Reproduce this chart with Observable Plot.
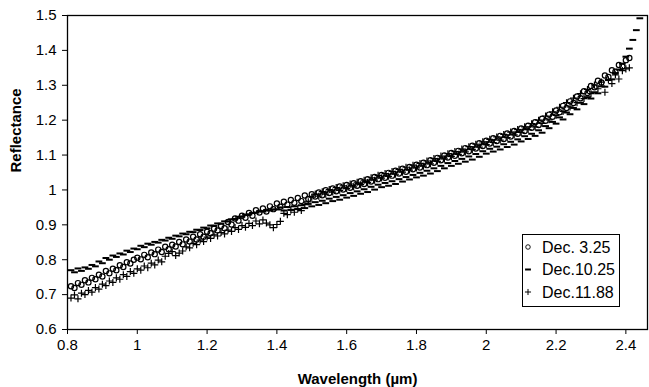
<!DOCTYPE html>
<html>
<head>
<meta charset="utf-8">
<script src="https://cdn.jsdelivr.net/npm/d3@7"></script>
<script src="https://cdn.jsdelivr.net/npm/@observablehq/plot@0.6"></script>
<style>
  html, body { margin: 0; padding: 0; background: #fff; }
  #chart { width: 649px; height: 387px; }
</style>
</head>
<body>
<div id="chart"></div>
<script>
// Spectra sampled every 0.01 µm starting at 0.81 µm
const wlStart = 0.81;
const wlStep = 0.01;

const seriesNames = ["Dec. 3.25", "Dec.10.25", "Dec.11.88"];

// Dec. 3.25 (circles), 0.81 – 2.41 µm
const dec325 = [
0.724,0.719,0.733,0.728,0.741,0.735,0.748,0.744,0.757,0.752,
0.768,0.761,0.774,0.770,0.784,0.779,0.793,0.789,0.800,0.806,
0.801,0.814,0.807,0.821,0.816,0.829,0.822,0.837,0.830,0.843,
0.838,0.851,0.844,0.858,0.852,0.866,0.858,0.873,0.866,0.880,
0.876,0.889,0.884,0.897,0.890,0.908,0.901,0.918,0.912,0.926,
0.920,0.934,0.926,0.942,0.935,0.947,0.938,0.953,0.945,0.961,
0.952,0.966,0.958,0.971,0.963,0.977,0.968,0.984,0.974,0.988,
0.981,0.993,0.985,0.999,0.991,1.004,0.996,1.010,1.001,1.014,
1.006,1.019,1.012,1.025,1.017,1.031,1.024,1.037,1.031,1.043,
1.035,1.049,1.041,1.055,1.047,1.061,1.052,1.066,1.059,1.072,
1.064,1.078,1.071,1.085,1.078,1.092,1.085,1.099,1.093,1.106,
1.098,1.112,1.105,1.120,1.111,1.127,1.119,1.134,1.126,1.141,
1.133,1.148,1.140,1.155,1.146,1.162,1.153,1.169,1.161,1.176,
1.169,1.184,1.178,1.194,1.186,1.204,1.198,1.216,1.210,1.228,
1.223,1.241,1.235,1.254,1.249,1.268,1.263,1.283,1.278,1.298,
1.294,1.313,1.308,1.328,1.324,1.343,1.339,1.358,1.354,1.372,
1.378
];

// Dec.10.25 (dashes), 0.81 – 2.44 µm
const dec1025 = [
0.770,0.764,0.775,0.768,0.778,0.774,0.785,0.781,0.795,0.790,
0.805,0.800,0.812,0.808,0.818,0.815,0.826,0.822,0.832,0.830,
0.840,0.836,0.846,0.843,0.851,0.849,0.857,0.855,0.863,0.860,
0.869,0.867,0.875,0.873,0.880,0.879,0.886,0.885,0.892,0.890,
0.898,0.897,0.904,0.903,0.910,0.910,0.916,0.917,0.923,0.924,
0.929,0.930,0.934,0.935,0.939,0.938,0.942,0.941,0.944,0.944,
0.950,0.941,0.951,0.943,0.953,0.945,0.956,0.948,0.960,0.953,
0.965,0.957,0.969,0.962,0.975,0.968,0.980,0.972,0.985,0.978,
0.991,0.983,0.996,0.989,1.002,0.994,1.009,1.001,1.015,1.008,
1.020,1.012,1.025,1.017,1.031,1.024,1.037,1.030,1.043,1.036,
1.049,1.041,1.055,1.047,1.062,1.054,1.069,1.062,1.077,1.069,
1.083,1.075,1.089,1.081,1.096,1.087,1.103,1.095,1.111,1.104,
1.118,1.110,1.124,1.116,1.131,1.123,1.138,1.130,1.145,1.139,
1.154,1.146,1.161,1.155,1.171,1.164,1.183,1.177,1.195,1.190,
1.208,1.202,1.222,1.217,1.235,1.231,1.250,1.246,1.266,1.262,
1.280,1.277,1.297,1.296,1.315,1.317,1.335,1.345,1.362,1.382,
1.405,1.430,1.458,1.492
];

// Dec.11.88 (plus), 0.81 – 2.41 µm
const dec1188 = [
0.690,0.699,0.688,0.704,0.700,0.712,0.707,0.720,0.716,0.730,
0.726,0.739,0.735,0.748,0.744,0.757,0.752,0.766,0.761,0.774,
0.770,0.782,0.777,0.790,0.785,0.799,0.794,0.810,0.818,0.823,
0.812,0.819,0.825,0.837,0.834,0.847,0.843,0.856,0.852,0.865,
0.861,0.871,0.868,0.878,0.874,0.885,0.881,0.892,0.887,0.898,
0.893,0.904,0.898,0.911,0.903,0.914,0.905,0.900,0.892,0.901,
0.910,0.933,0.929,0.942,0.936,0.946,0.941,0.958,0.966,0.979,
0.988,0.982,0.995,0.988,1.001,0.994,1.007,0.999,1.012,1.004,
1.017,1.009,1.022,1.015,1.028,1.021,1.035,1.028,1.042,1.034,
1.047,1.039,1.053,1.045,1.059,1.051,1.065,1.057,1.071,1.063,
1.076,1.068,1.083,1.075,1.090,1.082,1.097,1.089,1.104,1.096,
1.110,1.102,1.117,1.109,1.124,1.116,1.131,1.123,1.138,1.130,
1.145,1.136,1.152,1.143,1.159,1.150,1.166,1.158,1.173,1.165,
1.181,1.173,1.190,1.181,1.200,1.191,1.212,1.201,1.224,1.214,
1.237,1.225,1.250,1.238,1.263,1.250,1.276,1.262,1.288,1.276,
1.301,1.290,1.309,1.280,1.316,1.305,1.330,1.318,1.342,1.347,
1.350
];

const xTicks = [0.8, 1, 1.2, 1.4, 1.6, 1.8, 2, 2.2, 2.4];
const yTicks = [0.6, 0.7, 0.8, 0.9, 1, 1.1, 1.2, 1.3, 1.4, 1.5];
const xLabel = "Wavelength (µm)";
const yLabel = "Reflectance";

function toRows(values) {
  return values.map((r, i) => ({ w: +(wlStart + i * wlStep).toFixed(2), r }));
}

const dashSymbol = {
  draw(ctx, size) {
    const r = Math.sqrt(size / Math.PI);
    ctx.moveTo(-r * 1.3, 0);
    ctx.lineTo(r * 1.3, 0);
  }
};

const font = "'Liberation Sans', Arial, Helvetica, sans-serif";

const chart = Plot.plot({
  width: 649,
  height: 387,
  marginLeft: 67,
  marginRight: 2,
  marginTop: 15,
  marginBottom: 58,
  style: { fontFamily: font, fontSize: "15px", color: "black", background: "white" },
  x: { domain: [0.8, 2.462], ticks: xTicks, tickFormat: d => String(d), tickSize: 5, tickPadding: 5, label: null },
  y: { domain: [0.6, 1.5], ticks: yTicks, tickFormat: d => String(d), tickSize: 5, tickPadding: 6, label: null },
  marks: [
    Plot.frame({ stroke: "black", strokeWidth: 1.3 }),
    Plot.dot(toRows(dec1188), { x: "w", y: "r", symbol: "plus", r: 2.4, stroke: "black", strokeWidth: 1.2, fill: "none" }),
    Plot.dot(toRows(dec1025), { x: "w", y: "r", symbol: dashSymbol, r: 2.6, stroke: "black", strokeWidth: 2, fill: "none" }),
    Plot.dot(toRows(dec325), { x: "w", y: "r", symbol: "circle", r: 2.6, stroke: "black", strokeWidth: 1.2, fill: "none" }),
    Plot.text([xLabel], { frameAnchor: "bottom", dy: 50, lineAnchor: "middle", fontWeight: "bold", fontSize: 15 }),
    Plot.text([yLabel], { frameAnchor: "left", dx: -51, rotate: -90, lineAnchor: "middle", fontWeight: "bold", fontSize: 15 })
  ]
});

document.getElementById("chart").appendChild(chart);

// Legend box
const svg = d3.select(chart);
const lg = svg.append("g").attr("transform", "translate(522,234)");
lg.append("rect").attr("x", 0.5).attr("y", 0.5).attr("width", 97).attr("height", 72)
  .attr("fill", "white").attr("stroke", "black").attr("stroke-width", 1);
const legendSymbols = [d3.symbolCircle, dashSymbol, d3.symbolPlus];
const legendWidths = [0.9, 2, 1];
seriesNames.forEach((name, i) => {
  const y = 13 + i * 22.5;
  lg.append("path")
    .attr("transform", `translate(6,${y})`)
    .attr("d", d3.symbol(legendSymbols[i], i === 2 ? 14 : 16)())
    .attr("fill", "none").attr("stroke", "black").attr("stroke-width", legendWidths[i]);
  lg.append("text").attr("x", 20).attr("y", y).attr("dy", "0.35em")
    .attr("text-anchor", "start")
    .attr("font-family", font).attr("font-size", 16).attr("fill", "black")
    .text(name);
});
</script>
</body>
</html>
